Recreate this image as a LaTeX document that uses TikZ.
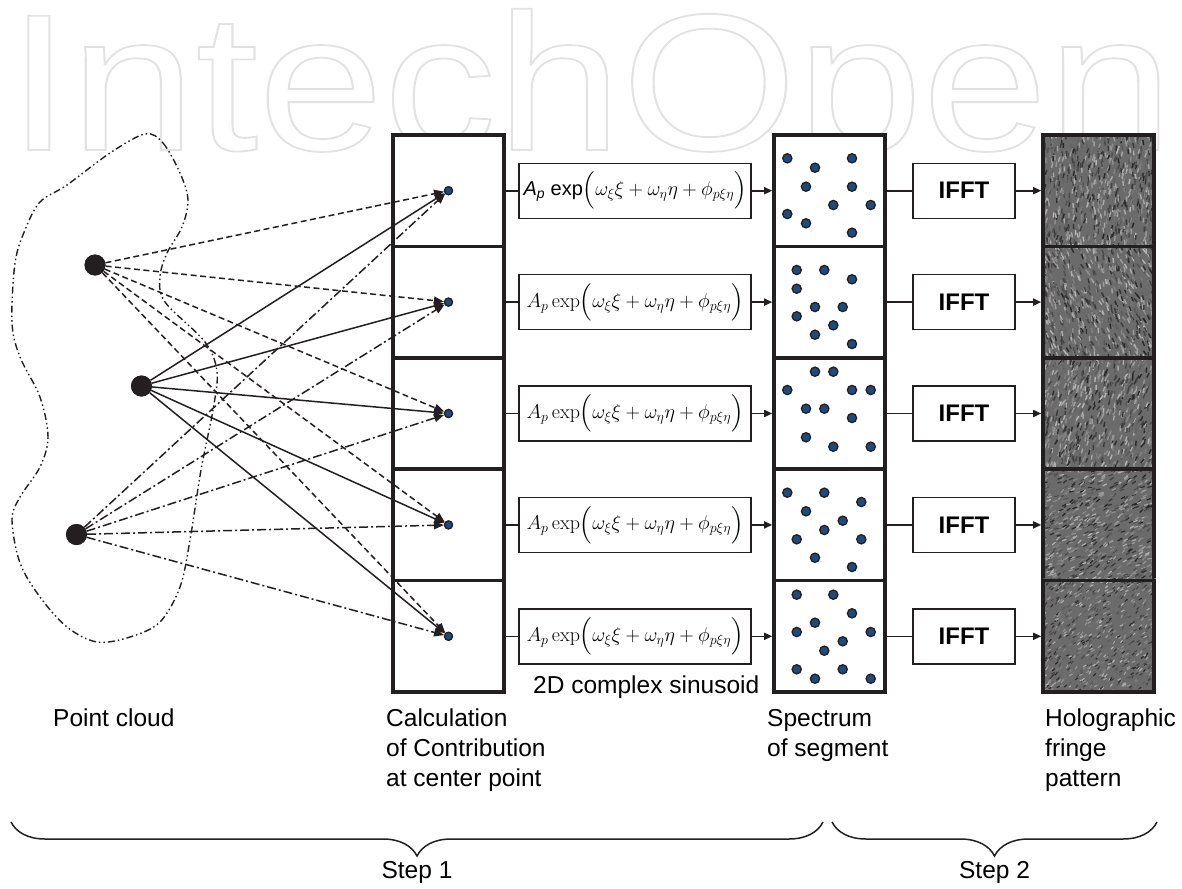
\RequirePackage{fix-cm}
\documentclass[tikz,border=0pt]{standalone}
\usepackage{amsmath}
\usepackage[no-math]{fontspec}
\usepackage{graphicx}
\setmainfont{Liberation Sans}
\usetikzlibrary{arrows.meta,decorations.pathreplacing}
\definecolor{ink}{HTML}{231F20}
\definecolor{dotblue}{HTML}{1F4A7C}
\definecolor{wmgray}{HTML}{E2E2E2}

\begin{document}
\begin{tikzpicture}[x=1pt,y=-1pt,
  cell/.style={rectangle, draw=ink, line width=3.6pt, fill=white,
    minimum width=111pt, minimum height=111.4pt, inner sep=0pt},
  formbox/.style={rectangle, draw=ink, line width=1.4pt, fill=white,
    minimum width=232pt, minimum height=55pt, inner sep=0pt,
    font=\fontsize{20}{24}\selectfont},
  fftbox/.style={rectangle, draw=ink, line width=1.4pt, fill=white,
    minimum width=102pt, minimum height=55pt, inner sep=0pt,
    font=\fontsize{24}{28}\selectfont\bfseries},
  target/.style={circle, draw=ink, line width=1.2pt, fill=dotblue,
    minimum size=8pt, inner sep=0pt},
  source/.style={circle, fill=ink, minimum size=21pt, inner sep=0pt},
  link/.style={draw=ink, line width=1.6pt},
  feed/.style={link, -{Triangle[length=8pt,width=7pt]}},
  ray/.style={draw=ink, line width=1.5pt, -{Triangle[length=10pt,width=8pt]}},
  rayA/.style={ray, dash pattern=on 6pt off 3.5pt},
  rayB/.style={ray},
  rayC/.style={ray, dash pattern=on 9pt off 3pt on 2pt off 3pt},
  sdot/.style={draw=ink, line width=1.3pt, fill=dotblue},
  label/.style={anchor=north west, inner sep=0pt, align=left,
    font=\fontsize{24.5}{30}\selectfont},
  steplabel/.style={anchor=center, inner sep=0pt,
    font=\fontsize{24.5}{30}\selectfont},
  brace/.style={draw=ink, line width=1.5pt, decorate,
    decoration={brace, amplitude=34pt, aspect=0.5}},
  wm/.style={anchor=base west, inner sep=0pt,
    font=\fontsize{195}{195}\selectfont}
]
\useasboundingbox (0,0) rectangle (1182,888);

% publisher mark in the background, set as outlined (stroked) letters
\node[wm, text=wmgray] (mark) at (7.3,150)
  {\special{pdf:literal direct 1 Tr 1.8 w}\scalebox{1.156}[1]{IntechOpen}\special{pdf:literal direct 0 Tr}};

% outline of the point cloud
\draw[ink, line width=1.4pt,
  dash pattern=on 7pt off 3pt on 1.5pt off 3pt on 1.5pt off 3pt]
  plot[smooth cycle, tension=0.55] coordinates {
  (145,134) (163,143) (180,173) (188,200) (182,227) (167,253) (160,277)
  (165,302) (205,342) (217,372) (213,410) (201,470) (190,540) (180,587)
  (160,622) (130,637) (97,642) (67,627) (40,597) (20,563) (12,520)
  (20,497) (40,467) (48,437) (40,397) (20,357) (12,323) (15,263)
  (25,230) (40,202) (67,185) (110,153)};

% the three columns, one cell per row
\foreach \k/\yy in {1/190.7,2/302.1,3/413.5,4/524.9,5/636.3} {
  \node[cell] (c\k) at (448.5,\yy) {};
  \node[cell] (s\k) at (829.5,\yy) {};
  \node[cell, fill=black!58] (h\k) at (1098.5,\yy) {};
  \node[target] (t\k) at (448.5,\yy) {};
  \node[fftbox] (i\k) at (964,\yy) {IFFT};
}

% formula boxes
\node[formbox] (f1) at (635,190.7)
  {\textit{A}\textsubscript{\textit{p}} exp$\Bigl(\omega_\xi\xi+\omega_\eta\eta+\phi_{p\xi\eta}\Bigr)$};
\foreach \k/\yy in {2/302.1,3/413.5,4/524.9,5/636.3}
  \node[formbox] (f\k) at (635,\yy)
    {$A_p\exp\Bigl(\omega_\xi\xi+\omega_\eta\eta+\phi_{p\xi\eta}\Bigr)$};

% speckle texture of the fringe patterns
\pgfmathsetseed{4217}
\foreach \k/\ang/\sl/\lw in {1/95/5/1.4,2/70/5/1.4,3/110/5/1.4,4/150/4.5/1.2,5/140/3.5/1.1} {
  \begin{scope}
    \clip (h\k.south west) rectangle (h\k.north east);
    \foreach \i in {1,...,850} {
      \pgfmathsetmacro{\px}{1041+115*rnd}
      \pgfmathsetmacro{\py}{130+(\k-1)*111.4+120*rnd}
      \pgfmathsetmacro{\gv}{14+58*rnd}
      \pgfmathsetmacro{\aa}{\ang+20*rand}
      \draw[line width=\lw pt, white!\gv!black] (\px,\py) -- ++(\aa:\sl);
    }
  \end{scope}
  \node[cell, fill=none] at (h\k) {};
}

% spectrum samples
\foreach \p in {
  (787.3,158.3),(815,167.7),(852,158.3),(806,186.7),(852,186.7),(833.3,205),
  (870.7,205),(787.3,214),(806,223.3),(852,232.7),
  (796.7,270),(824.3,270),(852,279.3),(796.7,288.7),(815,307),(842.7,307),
  (796.7,316.3),(833.3,325.3),(815,334.7),(852,344),
  (815,371.7),(833.3,371.7),(787.3,390),(852,390),(870.7,390),(806,408.7),
  (824.3,408.7),(852,418),(806,437.3),(833.3,446.7),(870.7,446.7),
  (787.3,492.7),(824.3,492.7),(861.3,502),(806,511.3),(842.7,520.7),
  (824.3,530),(796.7,539.3),(861.3,539.3),(815,557.7),(852,567),
  (796.7,594.7),(833.3,594.7),(852,613.3),(815,622.7),(796.7,632),
  (870.7,632),(842.7,641.3),(824.3,650.7),(796.7,669.3),(842.7,669.3),
  (815,678.7),(870.7,678.7)}
  \path[sdot] \p circle[radius=4.6];

% connectors along each row
\foreach \k in {1,...,5} {
  \draw[link] (c\k.east) -- (f\k.west);
  \draw[feed] (f\k.east) -- (s\k.west);
  \draw[link] (s\k.east) -- (i\k.west);
  \draw[feed] (i\k.east) -- (h\k.west);
}

% object points and their contributions
\node[source] (p1) at (95,265) {};
\node[source] (p2) at (141.5,386) {};
\node[source] (p3) at (76.5,534.5) {};
\foreach \k in {1,...,5} {
  \draw[rayA] (p1) -- (t\k);
  \draw[rayB] (p2) -- (t\k);
  \draw[rayC] (p3) -- (t\k);
}
\foreach \k in {1,...,5} \node[target] at (t\k) {};
\node[source] at (p1) {};
\node[source] at (p2) {};
\node[source] at (p3) {};

% captions
\node[label] (lblCloud) at (53,709) {Point cloud};
\node[label] (lblCalc) at (386,709) {Calculation\\of Contribution\\at center point};
\node[anchor=base west, inner sep=0pt, font=\fontsize{24.5}{30}\selectfont]
  (lblSin) at (533,693) {2D complex sinusoid};
\node[label] (lblSpec) at (767,709) {Spectrum\\of segment};
\node[label] (lblHolo) at (1045,709) {Holographic\\fringe\\pattern};

% grouping braces
\draw[brace] (823,822) -- (11,822);
\draw[brace] (1157,822) -- (832,822);
\node[steplabel] (step1) at (417,872) {Step 1};
\node[steplabel] (step2) at (994.5,872) {Step 2};
\end{tikzpicture}
\end{document}
